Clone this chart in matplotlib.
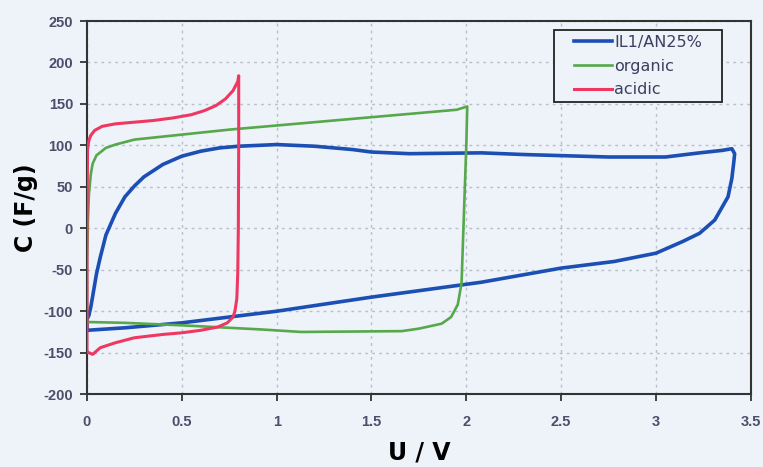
import numpy as np
import matplotlib.pyplot as plt
from matplotlib.path import Path

plt.rcParams['font.family'] = ['Liberation Sans', 'DejaVu Sans']
plt.rcParams['axes.unicode_minus'] = False

# IL1/AN25% loop (potential in V, capacitance in F/g)
il_u = [0.0, 0.0, 0.01, 0.02, 0.03, 0.05, 0.07, 0.1, 0.15, 0.2, 0.25, 0.3, 0.4, 0.5,
        0.6, 0.7, 0.8, 0.9, 1.0, 1.1, 1.2, 1.3, 1.4, 1.5, 1.7, 2.08, 2.3, 2.75, 3.05,
        3.23, 3.35, 3.40, 3.415, 3.41, 3.40, 3.38, 3.31, 3.23, 3.14, 3.0, 2.78, 2.5,
        2.08, 1.5, 1.0, 0.5, 0.2, 0.0]
il_c = [-123, -110, -105, -95, -82, -55, -35, -8, 18, 38, 51, 62, 77, 87,
        93, 97, 99, 100, 101, 100, 99, 97, 95, 92, 90, 91, 89, 86, 86,
        91, 94, 96, 90, 79, 60, 38, 10, -6, -16, -30, -40, -48,
        -65, -83, -100, -114, -120, -123]

# organic loop
org_u = [0.0, 0.0, 0.005, 0.01, 0.02, 0.03, 0.05, 0.1, 0.15, 0.25, 0.5, 0.75, 1.0,
         1.25, 1.5, 1.75, 1.95, 2.005, 2.0, 1.99, 1.975, 1.955, 1.92, 1.87, 1.75,
         1.66, 1.13, 0.92, 0.5, 0.2, 0.0]
org_c = [-113, -40, 10, 40, 65, 78, 88, 97, 101, 107, 113, 119, 124,
         129, 134, 139, 143, 147, 100, 34, -66, -92, -107, -115, -121,
         -124, -125, -122, -117, -114, -113]

# acidic loop
ac_u = [0.0, 0.0, 0.003, 0.01, 0.02, 0.04, 0.08, 0.15, 0.25, 0.35, 0.45, 0.55, 0.62,
        0.68, 0.73, 0.77, 0.795, 0.8, 0.8, 0.798, 0.795, 0.79, 0.78, 0.77, 0.74,
        0.69, 0.6, 0.5, 0.4, 0.25, 0.15, 0.07, 0.03, 0.0]
ac_c = [-150, 0, 95, 106, 112, 118, 123, 126, 128, 130, 133, 137, 142,
        148, 156, 166, 177, 184, 100, 0, -54, -85, -100, -107, -114,
        -119, -123, -126, -128, -132, -138, -144, -152, -149]

x_ticks = [0, 0.5, 1, 1.5, 2, 2.5, 3, 3.5]
x_labels = ['0', '0.5', '1', '1.5', '2', '2.5', '3', '3.5']
y_ticks = list(range(-200, 251, 50))

bg = '#eef2f9'
fig = plt.figure(figsize=(7.63, 4.67), dpi=100, facecolor=bg)
ax = fig.add_axes([0.114, 0.156, 0.870, 0.799], facecolor=bg)

ax.plot(il_u, il_c, color='#1b4fb3', lw=2.6, label='IL1/AN25%', zorder=3)
ax.plot(org_u, org_c, color='#56a84b', lw=1.9, label='organic', zorder=3)
ax.plot(ac_u, ac_c, color='#ee3862', lw=2.2, label='acidic', zorder=4)

ax.set_xlim(0, 3.5)
ax.set_ylim(-200, 250)
ax.set_xticks(x_ticks)
ax.set_xticklabels(x_labels)
ax.set_yticks(y_ticks)

ax.grid(True, color='#b8bfcc', linestyle=(0, (2, 3)), linewidth=1.0)
ax.set_axisbelow(True)

for s in ax.spines.values():
    s.set_color('#333333')
    s.set_linewidth(1.5)

ax.tick_params(axis='both', direction='out', length=5, width=1.3, color='#333333',
               labelsize=10.5, labelcolor='#4a4f6a')
ax.tick_params(axis='x', pad=10)
ax.tick_params(axis='y', pad=5)
for lab in ax.get_xticklabels() + ax.get_yticklabels():
    lab.set_fontweight('bold')

ax.set_xlabel('U / V', fontsize=17, fontweight='bold', family='DejaVu Sans', labelpad=8)
ax.set_ylabel('C (F/g)', fontsize=17, fontweight='bold', family='DejaVu Sans', labelpad=4)

leg = ax.legend(loc='upper right', bbox_to_anchor=(0.934, 0.976), borderaxespad=0,
                fancybox=False, framealpha=1, facecolor=bg, edgecolor='#222222',
                prop={'family': 'DejaVu Sans', 'size': 11.5},
                handlelength=2.4, handletextpad=0.12, labelspacing=0.55,
                borderpad=0.3)


def wide_box(x0, y0, width, height, mutation_size):
    # legend frame with extra room left and right of the entries
    px = 15
    x0 -= px
    width += 2 * px
    return Path([(x0, y0), (x0 + width, y0), (x0 + width, y0 + height),
                 (x0, y0 + height), (x0, y0)], closed=True)


leg.get_frame().set_boxstyle(wide_box)
leg.get_frame().set_linewidth(1.3)
for t in leg.get_texts():
    t.set_color('#3a4060')

fig.savefig('out.png', dpi=100, facecolor=bg)
